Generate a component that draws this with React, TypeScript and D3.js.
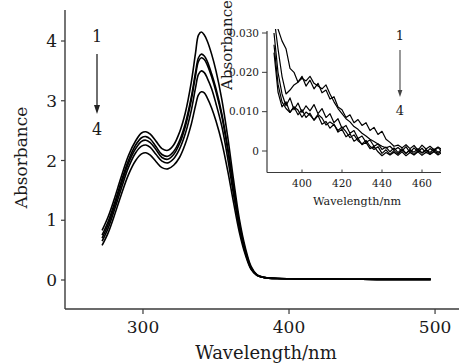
import React from "react";
import * as d3 from "d3";

// ---------- data ----------
const mainWavelengths = [272, 276, 280, 285, 290, 295, 299, 302, 305, 309, 313, 317, 321, 325, 329, 333, 336, 338, 340, 342, 344, 347, 350, 354, 358, 362, 366, 370, 374, 378, 382, 386, 392, 400, 420, 450, 480, 497];

const spectrum1 = [0.83, 1.05, 1.33, 1.72, 2.08, 2.33, 2.46, 2.48, 2.44, 2.32, 2.2, 2.17, 2.26, 2.47, 2.8, 3.3, 3.8, 4.1, 4.15, 4.1, 4.0, 3.78, 3.5, 3.02, 2.4, 1.68, 1.02, 0.55, 0.23, 0.09, 0.05, 0.035, 0.025, 0.02, 0.015, 0.012, 0.01, 0.01];
const spectrum2 = [0.75, 0.97, 1.25, 1.64, 2.0, 2.26, 2.38, 2.4, 2.36, 2.23, 2.1, 2.07, 2.15, 2.33, 2.62, 3.05, 3.48, 3.72, 3.78, 3.75, 3.66, 3.45, 3.2, 2.78, 2.22, 1.56, 0.95, 0.5, 0.21, 0.08, 0.045, 0.032, 0.024, 0.02, 0.015, 0.012, 0.01, 0.01];
const spectrum3 = [0.7, 0.92, 1.2, 1.59, 1.95, 2.2, 2.32, 2.34, 2.3, 2.18, 2.05, 2.02, 2.1, 2.28, 2.57, 3.0, 3.42, 3.66, 3.72, 3.69, 3.6, 3.4, 3.15, 2.74, 2.18, 1.53, 0.93, 0.49, 0.2, 0.08, 0.045, 0.032, 0.024, 0.02, 0.015, 0.012, 0.01, 0.01];
const spectrum4 = [0.65, 0.86, 1.14, 1.52, 1.88, 2.13, 2.24, 2.26, 2.22, 2.1, 1.99, 1.96, 2.03, 2.19, 2.45, 2.83, 3.22, 3.44, 3.5, 3.47, 3.38, 3.2, 2.95, 2.57, 2.04, 1.43, 0.87, 0.46, 0.19, 0.08, 0.045, 0.032, 0.024, 0.02, 0.015, 0.012, 0.01, 0.01];
const spectrum5 = [0.58, 0.78, 1.05, 1.42, 1.76, 2.0, 2.11, 2.13, 2.09, 1.98, 1.88, 1.86, 1.92, 2.05, 2.28, 2.6, 2.92, 3.1, 3.15, 3.13, 3.05, 2.88, 2.66, 2.3, 1.83, 1.3, 0.8, 0.43, 0.18, 0.08, 0.045, 0.032, 0.024, 0.02, 0.015, 0.012, 0.01, 0.01];

const insetWavelengths = [386, 388, 390, 392, 394, 396, 398, 400, 402, 404, 406, 408, 410, 412, 414, 416, 418, 420, 422, 424, 426, 428, 430, 432, 434, 436, 438, 440, 442, 444, 446, 448, 450, 452, 454, 456, 458, 460, 462, 464, 466, 468, 470];

const inset1 = [0.036, 0.031, 0.028, 0.026, 0.021, 0.02, 0.0175, 0.019, 0.0165, 0.018, 0.0158, 0.0172, 0.0148, 0.0155, 0.0132, 0.0138, 0.0112, 0.0105, 0.0085, 0.0092, 0.0072, 0.008, 0.0065, 0.0072, 0.0052, 0.006, 0.0042, 0.005, 0.003, 0.0022, 0.0012, 0.0015, 0.0008, 0.0016, 0.0006, 0.0014, 0.0002, 0.0015, 0.0005, 0.0012, 0.0003, 0.001, 0.0004];
const inset2 = [0.034, 0.026, 0.019, 0.0145, 0.0155, 0.0168, 0.0175, 0.0185, 0.0178, 0.019, 0.0172, 0.0165, 0.0158, 0.0168, 0.0145, 0.0125, 0.0108, 0.0095, 0.0082, 0.0074, 0.0062, 0.0055, 0.0045, 0.0038, 0.003, 0.0024, 0.0018, 0.0012, 0.0008, 0.0012, 0.0002, 0.0009, 0.0, 0.0011, -0.0004, 0.0008, -0.0002, 0.0007, -0.0005, 0.0006, 0.0, 0.0009, -0.0002];
const inset3 = [0.03, 0.02, 0.0145, 0.0115, 0.0135, 0.0105, 0.0122, 0.0098, 0.0115, 0.0102, 0.0118, 0.0095, 0.0108, 0.0085, 0.0095, 0.0072, 0.0082, 0.0058, 0.0065, 0.0045, 0.0052, 0.0032, 0.0038, 0.0022, 0.0028, 0.0012, 0.0018, 0.0004, 0.001, -0.0002, 0.0008, -0.0004, 0.0006, -0.0006, 0.0004, -0.0003, 0.0006, -0.0005, 0.0004, -0.0004, 0.0005, -0.0003, 0.0003];
const inset4 = [0.027, 0.017, 0.0125, 0.0108, 0.0098, 0.0112, 0.0104, 0.0086, 0.0099, 0.0091, 0.0079, 0.0093, 0.0084, 0.0066, 0.0074, 0.0067, 0.0052, 0.0061, 0.0049, 0.0034, 0.0041, 0.0026, 0.0018, 0.0027, 0.0012, 0.0004, 0.0011, -0.0006, 0.0003, -0.0009, 0.0001, -0.0008, 0.0003, -0.0006, 0.0002, -0.0009, 0.0001, -0.0005, 0.0002, -0.0008, 0.0, -0.0006, -0.0001];
const inset5 = [0.025, 0.015, 0.0112, 0.0125, 0.0098, 0.0112, 0.0092, 0.0105, 0.0085, 0.0096, 0.0078, 0.009, 0.0068, 0.0075, 0.0058, 0.0068, 0.0048, 0.0055, 0.0036, 0.0044, 0.0025, 0.0032, 0.0016, 0.0022, 0.0006, 0.0012, -0.0002, -0.0012, -0.0004, -0.001, -0.0003, -0.0011, -0.0002, -0.0012, -0.0004, -0.001, -0.0002, -0.0011, -0.0003, -0.0009, -0.0002, -0.001, -0.0004];

const mainXTicks = [300, 400, 500];
const mainYTicks = [0, 1, 2, 3, 4];
const insetXTicks = [400, 420, 440, 460];
const insetYTicks = [0, 0.01, 0.02, 0.03];
const insetYTickLabels = ["0", "0.010", "0.020", "0.030"];

const xTitle = "Wavelength/nm";
const yTitle = "Absorbance";
const seriesStart = "1";
const seriesEnd = "4";

const mainSeries = [spectrum1, spectrum2, spectrum3, spectrum4, spectrum5];
const insetSeries = [inset1, inset2, inset3, inset4, inset5];

const FONT = "'DejaVu Serif', serif";
const AXIS = "#3a3a3a";
const TEXT = "#1a1a1a";

export default function App() {
  // main plot
  const x = d3.scaleLinear().domain([246.6, 516.4]).range([65, 459]);
  const y = d3.scaleLinear().domain([0, 4]).range([280, 41]);
  const yTop = 10;
  const yBottom = 309;

  const mainLine = d3
    .line<number>()
    .x((_, i) => x(mainWavelengths[i]))
    .y((d) => y(d))
    .curve(d3.curveCatmullRom.alpha(0.5));

  // inset
  const ix = d3.scaleLinear().domain([382.5, 469.5]).range([267, 441]);
  const iy = d3.scaleLinear().domain([0, 0.03]).range([151, 33]);
  const iTop = 31;
  const iBottom = 172.5;

  const insetLine = d3
    .line<number>()
    .x((_, i) => ix(insetWavelengths[i]))
    .y((d) => iy(d));

  return (
    <svg
      width={459}
      height={364}
      style={{ position: "absolute", left: 0, top: 0, background: "#fff" }}
      fontFamily={FONT}
    >
      <defs>
        <clipPath id="insetClip">
          <rect x={ix.range()[0]} y={29} width={ix.range()[1] - ix.range()[0]} height={iBottom - 29} />
        </clipPath>
      </defs>
      <rect x={0} y={0} width={459} height={364} fill="#fff" />

      {/* main axes */}
      <line x1={65} x2={65} y1={yTop} y2={yBottom} stroke={AXIS} strokeWidth={1.4} />
      <line x1={65} x2={459} y1={yBottom} y2={yBottom} stroke={AXIS} strokeWidth={1.4} />
      {mainYTicks.map((t) => (
        <g key={"my" + t}>
          <line x1={61} x2={65} y1={y(t)} y2={y(t)} stroke={AXIS} strokeWidth={1.2} />
          <text x={57} y={y(t)} dy="0.36em" textAnchor="end" fontSize={17} fill={TEXT}>
            {t}
          </text>
        </g>
      ))}
      {mainXTicks.map((t) => (
        <g key={"mx" + t}>
          <line x1={x(t)} x2={x(t)} y1={yBottom} y2={yBottom + 5} stroke={AXIS} strokeWidth={1.2} />
          <text x={x(t)} y={333} textAnchor="middle" fontSize={17} fill={TEXT}>
            {t}
          </text>
        </g>
      ))}
      <text x={266} y={359} textAnchor="middle" fontSize={18} fill={TEXT}>
        {xTitle}
      </text>
      <text transform="translate(27,157.5) rotate(-90)" textAnchor="middle" fontSize={17} fill={TEXT}>
        {yTitle}
      </text>

      {/* main curves */}
      {mainSeries.map((s, i) => (
        <path key={"m" + i} d={mainLine(s) || ""} fill="none" stroke="#000" strokeWidth={1.6} strokeLinejoin="round" />
      ))}

      {/* main annotation */}
      <text x={97} y={42} textAnchor="middle" fontSize={16} fill={TEXT}>
        {seriesStart}
      </text>
      <line x1={97} x2={97} y1={54} y2={106} stroke="#222" strokeWidth={1.3} />
      <polygon points="94,105 100,105 97,114" fill="#222" />
      <text x={97} y={135} textAnchor="middle" fontSize={16} fill={TEXT}>
        {seriesEnd}
      </text>

      {/* inset axes */}
      <line x1={267} x2={267} y1={iTop} y2={iBottom} stroke={AXIS} strokeWidth={1.2} />
      <line x1={267} x2={441} y1={iBottom} y2={iBottom} stroke={AXIS} strokeWidth={1.2} />
      {insetYTicks.map((t, i) => (
        <g key={"iy" + t}>
          <line x1={262} x2={267} y1={iy(t)} y2={iy(t)} stroke={AXIS} strokeWidth={1} />
          <text x={259} y={iy(t)} dy="0.36em" textAnchor="end" fontSize={10.5} fill={TEXT}>
            {insetYTickLabels[i]}
          </text>
        </g>
      ))}
      {insetXTicks.map((t) => (
        <g key={"ix" + t}>
          <line x1={ix(t)} x2={ix(t)} y1={iBottom} y2={iBottom - 3} stroke={AXIS} strokeWidth={1} />
          <text x={ix(t)} y={187} textAnchor="middle" fontSize={10.5} fill={TEXT}>
            {t}
          </text>
        </g>
      ))}
      <text x={357} y={205} textAnchor="middle" fontSize={11.2} fill={TEXT}>
        {xTitle}
      </text>
      <text transform="translate(232,45) rotate(-90)" textAnchor="middle" fontSize={15} fill={TEXT}>
        {yTitle}
      </text>

      {/* inset curves */}
      <g clipPath="url(#insetClip)">
        {insetSeries.map((s, i) => (
          <path key={"i" + i} d={insetLine(s) || ""} fill="none" stroke="#000" strokeWidth={1.2} strokeLinejoin="round" />
        ))}
      </g>

      {/* inset annotation */}
      <text x={400} y={40} textAnchor="middle" fontSize={13} fill={TEXT}>
        {seriesStart}
      </text>
      <line x1={400} x2={400} y1={50} y2={91} stroke="#444" strokeWidth={1.1} />
      <polygon points="397.6,90 402.4,90 400,97" fill="#444" />
      <text x={400} y={115} textAnchor="middle" fontSize={13} fill={TEXT}>
        {seriesEnd}
      </text>
    </svg>
  );
}
